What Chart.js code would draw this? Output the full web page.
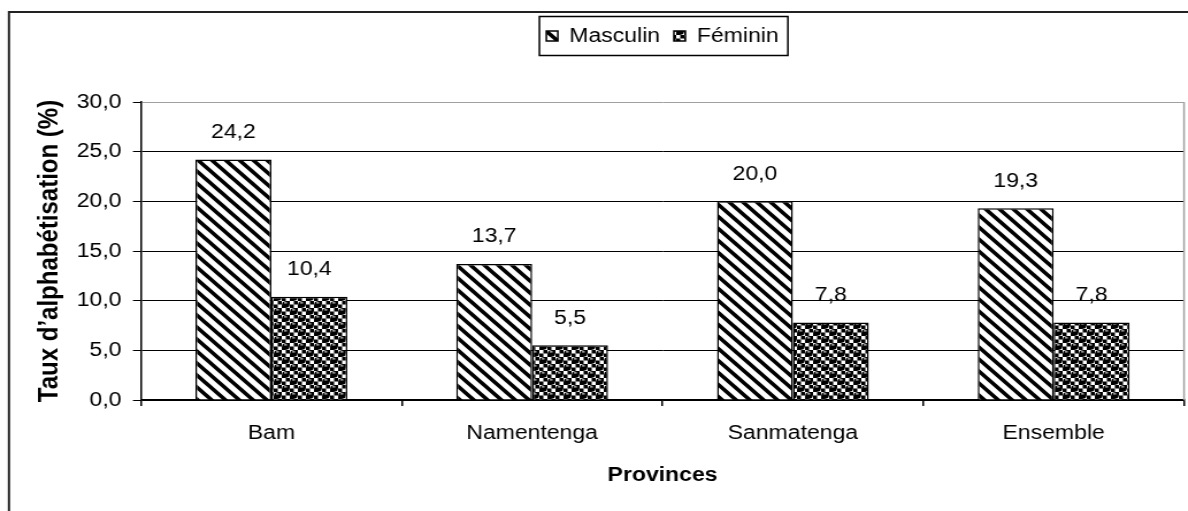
<!DOCTYPE html>
<html>
<head>
<meta charset="utf-8">
<script src="https://cdn.jsdelivr.net/npm/chart.js@4.4.1/dist/chart.umd.min.js"></script>
<style>
html,body{margin:0;padding:0;background:#fff;overflow:hidden;}
/* the reference is a horizontally stretched export, so stretch the canvas the same way */
#wrap{width:1033px;height:511px;transform:scaleX(1.15);transform-origin:0 0;}
</style>
</head>
<body>
<div id="wrap"><canvas id="c" width="1033" height="511"></canvas></div>
<script>
// Data
const provinces = ['Bam', 'Namentenga', 'Sanmatenga', 'Ensemble'];
const masculin = [24.2, 13.7, 20.0, 19.3];
const feminin = [10.4, 5.5, 7.8, 7.8];
const seriesNames = ['Masculin', 'Féminin'];
const yMin = 0, yMax = 30, yStep = 5;
const yTitle = 'Taux d’alphabétisation (%)';
const xTitle = 'Provinces';

const FONT = '"Liberation Sans", Arial, Helvetica, sans-serif';
Chart.defaults.font.family = FONT;
Chart.defaults.color = '#000';

const canvas = document.getElementById('c');
const ctx = canvas.getContext('2d');

function fmt(v){ return v.toFixed(1).replace('.', ','); }

function stripePattern(){
  const n = 12;
  const c = document.createElement('canvas');
  c.width = c.height = n;
  const g = c.getContext('2d');
  g.fillStyle = '#fff'; g.fillRect(0,0,n,n);
  g.strokeStyle = '#000'; g.lineWidth = 3.6;
  g.beginPath();
  g.moveTo(-3,-3); g.lineTo(n+3,n+3);
  g.moveTo(-3,n-3); g.lineTo(3,n+3);
  g.moveTo(n-3,-3); g.lineTo(n+3,3);
  g.stroke();
  return ctx.createPattern(c, 'repeat');
}

function dotPattern(){
  const n = 14, s = n/4;
  const c = document.createElement('canvas');
  c.width = c.height = n;
  const g = c.getContext('2d');
  g.fillStyle = '#fff'; g.fillRect(0,0,n,n);
  g.fillStyle = '#000';
  for(let i=0;i<4;i++) for(let j=0;j<4;j++){
    if((i+j)%2) g.fillRect(i*s, j*s, s, s);
  }
  [[s, s],[3*s, 3*s]].forEach(([x,y]) => {
    g.fillStyle = '#000';
    g.beginPath(); g.arc(x, y, 3.2, 0, Math.PI*2); g.fill();
    g.fillStyle = '#fff';
    g.fillRect(x-1.4, y-2.1, 2.4, 1);
  });
  return ctx.createPattern(c, 'repeat');
}

// page frame, plot border, legend box
const frame = {
  id: 'frame',
  beforeDraw(chart){
    const c = chart.ctx;
    c.save();
    c.fillStyle = '#fff'; c.fillRect(0,0,chart.width,chart.height);
    c.strokeStyle = '#222'; c.lineWidth = 2;
    c.beginPath();
    c.moveTo(7.8, chart.height); c.lineTo(7.8, 12); c.lineTo(chart.width, 12);
    c.stroke();
    c.restore();
  },
  afterDraw(chart){
    const c = chart.ctx, a = chart.chartArea;
    c.save();
    c.strokeStyle = '#a0a0a0'; c.lineWidth = 1.5;
    c.beginPath(); c.moveTo(a.right, a.top); c.lineTo(a.right, a.bottom); c.stroke();
    const hb = chart.legend && chart.legend.legendHitBoxes;
    if(hb && hb.length){
      const first = hb[0], last = hb[hb.length-1];
      const cy = first.top + first.height/2;
      const x0 = first.left - 6, x1 = last.left + last.width + 8;
      c.strokeStyle = '#000'; c.lineWidth = 1.5;
      c.strokeRect(x0, cy - 19.5, x1 - x0, 39);
    }
    c.restore();
  }
};

// fixed legend band height so the plot starts where the reference does
const legendHeight = {
  id: 'legendHeight',
  afterInit(chart){
    const lg = chart.legend;
    if(!lg) return;
    const fit = lg.fit.bind(lg);
    lg.fit = function(){ fit(); this.height = 102 - 14; };
  }
};

const valueLabels = {
  id: 'valueLabels',
  afterDatasetsDraw(chart){
    const c = chart.ctx;
    c.save();
    c.font = '20px ' + FONT;
    c.fillStyle = '#000';
    c.textAlign = 'center';
    c.textBaseline = 'middle';
    chart.data.datasets.forEach((ds, i) => {
      chart.getDatasetMeta(i).data.forEach((bar, j) => {
        c.fillText(fmt(ds.data[j]), bar.x, bar.y - 27);
      });
    });
    c.restore();
  }
};

new Chart(canvas, {
  type: 'bar',
  data: {
    labels: provinces,
    datasets: [
      { label: seriesNames[0], data: masculin, backgroundColor: stripePattern(), borderColor: '#000', borderWidth: 1.5,
        categoryPercentage: 0.582, barPercentage: 1 },
      { label: seriesNames[1], data: feminin, backgroundColor: dotPattern(), borderColor: '#000', borderWidth: 1.5,
        categoryPercentage: 0.582, barPercentage: 1 }
    ]
  },
  options: {
    responsive: false,
    animation: false,
    layout: { padding: { left: 8, top: 14, right: 3.4, bottom: 0 } },
    plugins: {
      legend: {
        position: 'top',
        fullSize: false,
        labels: { font: { size: 20 }, boxWidth: 10, boxHeight: 10, padding: 12, color: '#000' }
      },
      tooltip: { enabled: false }
    },
    scales: {
      x: {
        afterFit(s){ s.height = 111; },
        grid: { offset: true, drawOnChartArea: false, color: '#000', lineWidth: 1.5, tickLength: 6 },
        border: { color: '#000', width: 1.5 },
        ticks: { font: { size: 20 }, padding: 15, color: '#000' },
        title: { display: true, text: xTitle, font: { size: 20, weight: 'bold' }, padding: { top: 0, bottom: 24 }, color: '#000' }
      },
      y: {
        min: yMin, max: yMax,
        afterFit(s){ s.width = 114.6; },
        grid: {
          color: c => (c.tick && c.tick.value === yMax) ? '#a0a0a0' : '#000',
          tickColor: '#000', lineWidth: 1, tickLength: 7
        },
        border: { color: '#000', width: 1.5 },
        ticks: { stepSize: yStep, font: { size: 20 }, padding: 10, color: '#000', callback: v => fmt(v) },
        title: { display: true, text: yTitle, font: { size: 24, weight: 'bold' }, padding: { top: 20.6, bottom: 0 }, color: '#000' }
      }
    }
  },
  plugins: [frame, legendHeight, valueLabels]
});
</script>
</body>
</html>
